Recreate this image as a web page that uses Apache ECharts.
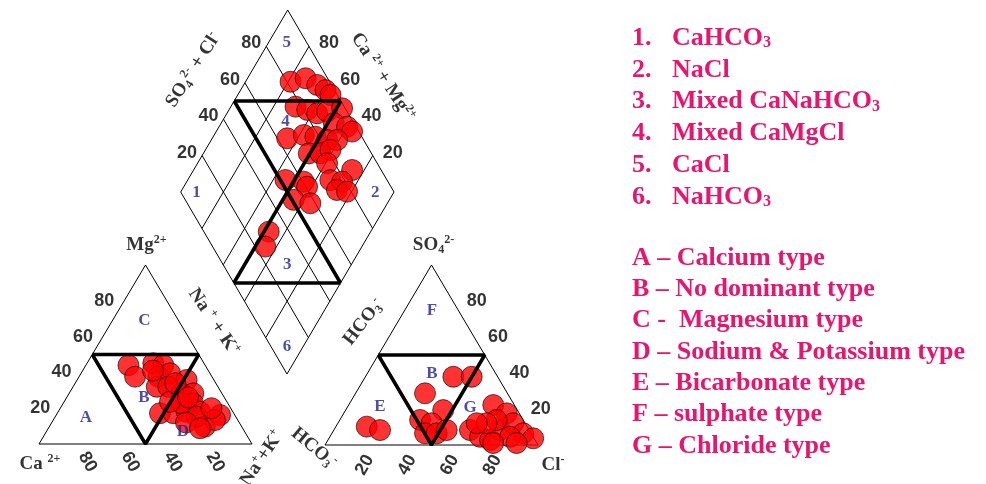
<!DOCTYPE html>
<html>
<head>
<meta charset="utf-8">
<script src="https://cdn.jsdelivr.net/npm/echarts@6/dist/echarts.min.js"></script>
<style>
html, body { margin: 0; padding: 0; background: #fff; }
#chart { width: 986px; height: 484px; }
</style>
</head>
<body>
<div id="chart"></div>
<script>
// ---- sample values (percent of meq/L) ----
// cation triangle: Mg2+ % and Na+ + K+ % (Ca2+ is the remainder)
const cationMg  = [44, 37.6, 45.1, 44.1, 37.6, 39.5, 32, 32, 35.8, 28.3, 28.3, 22.7, 17.2, 17.2, 18, 18, 22.7, 23.6, 9.7, 16.2, 13.4, 15.3, 41, 34, 26, 12, 20, 8.8];
const cationNaK = [20, 26.3, 31.1, 36.3, 37.2, 41.8, 39.3, 44.7, 51.4, 52.8, 58.3, 61, 48.2, 54.5, 60.3, 66.6, 55.6, 49.7, 73, 76.9, 75.9, 66.4, 33, 47, 57, 63, 71, 71.2];
// anion triangle: SO4 2- % and Cl- % (HCO3- is the remainder)
const anionSO4 = [37.9, 37.9, 28.7, 19.4, 13.9, 12.1, 6.5, 6.5, 8.3, 10.2, 8.3, 22.2, 17.6, 8.3, 4.6, 2.8, 8.3, 12.1, 6.5, 3.7, 4.6, 13.9, 12.1, 12.1, 1.1, 1.1];
const anionCl  = [41.3, 49.9, 32.6, 45.8, 37.7, 44, 43.7, 49.2, 53, 14.5, 21.7, 67.9, 76.5, 63.9, 70.5, 76.1, 78, 82.3, 89.8, 95.9, 84.6, 73.6, 69.8, 65.2, 89.4, 78.4];
// diamond: SO4 2- + Cl- % and Ca2+ + Mg2+ %
const diamondSO4Cl = [81.7, 89.7, 93.3, 95.8, 96.8, 77.2, 81.8, 85.5, 90.7, 98.6, 90.6, 95.9, 96.9, 64.6, 73.3, 78.3, 82.9, 87.6, 70.6, 76.1, 81.7, 76.5, 86.4, 73.4, 78.5, 73.8, 78.1, 52.4, 60.5, 60.7, 50.8, 57.7, 30.4, 24.7];
const diamondCaMg  = [78.9, 72.8, 65.5, 60.2, 56.5, 69.7, 63.3, 57.7, 53.5, 47.4, 47.2, 40, 36.3, 64.9, 58, 52.1, 45.7, 41, 50.6, 45.2, 41.4, 39.3, 25.7, 33.1, 27.2, 27.3, 22.1, 54.2, 45.2, 42.2, 44.9, 36.1, 47.8, 45.3];

const tickValues = [20, 40, 60, 80];

// legend texts
const waterTypeNums = ['1.', '2.', '3.', '4.', '5.', '6.'];
const waterTypes = ['CaHCO{s|3}', 'NaCl', 'Mixed CaNaHCO{s|3}', 'Mixed CaMgCl', 'CaCl', 'NaHCO{s|3}'];
const faciesTypes = ['A – Calcium type', 'B – No dominant type', 'C -  Magnesium type', 'D – Sodium & Potassium type', 'E – Bicarbonate type', 'F – sulphate type', 'G – Chloride type'];

// ---- layout of the three plotting fields (pixel units) ----
const LT = { x0: 39, y0: 444, w: 213, h: 179 };   // cation triangle
const RT = { x0: 325, y0: 445, w: 213, h: 180 };  // anion triangle
const DM = { bx: 287, by: 374, ax: 107, ay: -182, cx: -106.3, cy: -182 }; // diamond

// ternary position: top-vertex share and right-vertex share
function tern(T, top, right) {
  return [T.x0 + (right + top / 2) / 100 * T.w, T.y0 - top / 100 * T.h];
}
// diamond position: a = SO4+Cl, b = Ca+Mg
function dia(a, b) {
  return [DM.bx + a / 100 * DM.ax + b / 100 * DM.cx, DM.by + a / 100 * DM.ay + b / 100 * DM.cy];
}
// move a label anchor by a few pixels (axes run 1:1 with pixels)
function shift(p, dx, dy) { return [p[0] + dx, p[1] + dy]; }

const series = [];
function poly(pts, width, z) {
  series.push({
    type: 'line', data: pts, symbol: 'none', silent: true, animation: false, z: z,
    lineStyle: { color: '#000', width: width }, clip: false
  });
}

// outlines
poly([tern(LT, 0, 0), tern(LT, 0, 100), tern(LT, 100, 0), tern(LT, 0, 0)], 1, 1);
poly([tern(RT, 0, 0), tern(RT, 0, 100), tern(RT, 100, 0), tern(RT, 0, 0)], 1, 1);
poly([dia(0, 0), dia(100, 0), dia(100, 100), dia(0, 100), dia(0, 0)], 1, 1);
tickValues.forEach(v => {
  poly([dia(v, 0), dia(v, 100)], 1, 1);
  poly([dia(0, v), dia(100, v)], 1, 1);
});

// samples
const pointStyle = { color: '#ff0000', borderColor: '#000', borderWidth: 0.8 };
function scatter(data) {
  series.push({
    type: 'scatter', data: data, symbolSize: 21, itemStyle: pointStyle,
    silent: true, animation: false, z: 3, clip: false
  });
}
scatter(cationMg.map((m, i) => tern(LT, m, cationNaK[i])));
scatter(anionSO4.map((s, i) => tern(RT, s, anionCl[i])));
scatter(diamondSO4Cl.map((a, i) => dia(a, diamondCaMg[i])));

// facies boundaries
poly([tern(LT, 50, 0), tern(LT, 50, 50), tern(LT, 0, 50), tern(LT, 50, 0)], 3.5, 5);
poly([tern(RT, 50, 0), tern(RT, 50, 50), tern(RT, 0, 50), tern(RT, 50, 0)], 3.5, 5);
poly([dia(50, 100), dia(100, 50)], 3.5, 5);
poly([dia(0, 50), dia(50, 0)], 3.5, 5);
poly([dia(50, 100), dia(50, 0)], 3.5, 5);
poly([dia(100, 50), dia(0, 50)], 3.5, 5);

// ---- text ----
const serif = 'Liberation Serif';
const chemRich = {
  m: { fontFamily: serif, fontWeight: 'bold', fontSize: 19, color: '#000', lineHeight: 22 },
  s: { fontFamily: serif, fontWeight: 'bold', fontSize: 12, color: '#000', verticalAlign: 'bottom', lineHeight: 14 },
  p: { fontFamily: serif, fontWeight: 'bold', fontSize: 12, color: '#000', verticalAlign: 'top', lineHeight: 14 }
};
function labels(items, common) {
  series.push({
    type: 'scatter', symbolSize: 0, silent: true, animation: false, z: 6, clip: false,
    data: items.map(it => ({
      value: it.pos,
      label: Object.assign({ show: true, position: 'inside', formatter: it.text, rotate: it.rotate || 0 }, common)
    }))
  });
}

const tickStyle = { fontFamily: 'Liberation Sans', fontWeight: 'bold', fontSize: 18, color: '#000' };
labels(tickValues.map(v => ({ pos: shift(tern(LT, v, 0), -20, 0), text: String(v) })), tickStyle);
labels(tickValues.map(v => ({ pos: shift(tern(LT, 0, 100 - v), 6, 18), text: String(v), rotate: -60 })), tickStyle);
labels(tickValues.map(v => ({ pos: shift(tern(RT, v, 100 - v), 24, 0), text: String(v) })), tickStyle);
labels(tickValues.map(v => ({ pos: shift(tern(RT, 0, v), -3, 20), text: String(v), rotate: 60 })), tickStyle);
labels(tickValues.map(v => ({ pos: shift(dia(v, 100), -15, -3), text: String(v) })), tickStyle);
labels(tickValues.map(v => ({ pos: shift(dia(100, v), 20, -3), text: String(v) })), tickStyle);

// field letters and numbers
const zoneStyle = { fontFamily: serif, fontWeight: 'bold', fontSize: 17, color: '#1f1f9a' };
labels([
  { pos: tern(LT, 69, 15), text: 'C' }, { pos: tern(LT, 14.5, 14.8), text: 'A' },
  { pos: tern(LT, 25.7, 36.4), text: 'B' }, { pos: tern(LT, 6.7, 64.2), text: 'D' },
  { pos: tern(RT, 74.4, 13), text: 'F' }, { pos: tern(RT, 21.1, 15.2), text: 'E' },
  { pos: tern(RT, 39.4, 30.5), text: 'B' }, { pos: tern(RT, 20.6, 57.8), text: 'G' },
  { pos: dia(90.7, 91.6), text: '5' }, { pos: dia(7.1, 92.4), text: '1' },
  { pos: dia(91, 8.5), text: '2' }, { pos: dia(68.3, 70.2), text: '4' },
  { pos: dia(30, 30), text: '3' }, { pos: dia(7.4, 7.4), text: '6' }
], zoneStyle);

// axis titles
const titleStyle = { rich: chemRich };
labels([
  { pos: shift(tern(LT, 100, 0), 1, -20), text: '{m|Mg}{p|2+}' },
  { pos: shift(tern(LT, 0, 0), 1, 20), text: '{m|Ca }{p|2+}' },
  { pos: shift(tern(LT, 0, 100), 10, 14), text: '{m|Na}{p|+}{m|+K}{p|+}', rotate: 56 },
  { pos: shift(tern(RT, 100, 0), 2, -20), text: '{m|SO}{s|4}{p|2-}' },
  { pos: shift(tern(RT, 0, 100), 15, 20), text: '{m|Cl}{p|-}' },
  { pos: shift(tern(RT, 70, 0), -36, 3), text: '{m|HCO}{s|3}{p|-}', rotate: 52 },
  { pos: shift(tern(RT, 0, 0), -11, 3), text: '{m|HCO}{s|3}{p|-}', rotate: -40 },
  { pos: shift(dia(50, 100), -41, -31), text: '{m|SO}{s|4}{p|2-}{m| + Cl}{p|-}', rotate: 57 },
  { pos: shift(dia(100, 50), 42, -24), text: '{m|Ca }{p|2+}{m| + Mg}{p|2+}', rotate: -57 },
  { pos: shift(dia(0, 50), -20, 39), text: '{m|Na }{p|+}{m| + K}{p|+}', rotate: -56 }
], titleStyle);

const chart = echarts.init(document.getElementById('chart'), null, { renderer: 'canvas' });

// legend blocks
const pink = '#e8146e';
const legendRich = {
  n: { fontFamily: serif, fontWeight: 'bold', fontSize: 26, fill: pink, width: 40 },
  t: { fontFamily: serif, fontWeight: 'bold', fontSize: 26, fill: pink },
  s: { fontFamily: serif, fontWeight: 'bold', fontSize: 16, fill: pink, verticalAlign: 'bottom' }
};
const graphic = [];
waterTypes.forEach((t, i) => {
  const txt = '{n|' + waterTypeNums[i] + '}' + t.split(/(\{s\|[^}]*\})/).map(p => p.startsWith('{s|') ? p : (p ? '{t|' + p + '}' : '')).join('');
  graphic.push({
    type: 'text', left: 632, top: 25 + i * 31.8, silent: true,
    style: { text: txt, rich: legendRich, font: 'bold 26px "Liberation Serif"', fill: pink }
  });
});
faciesTypes.forEach((t, i) => {
  graphic.push({
    type: 'text', left: 632, top: 245 + i * 31.3, silent: true,
    style: { text: t, font: 'bold 26px "Liberation Serif"', fill: pink }
  });
});

chart.setOption({
  animation: false,
  backgroundColor: '#fff',
  grid: { left: 0, right: 0, top: 0, bottom: 0 },
  xAxis: { type: 'value', min: 0, max: 986, show: false },
  yAxis: { type: 'value', min: 0, max: 484, inverse: true, show: false },
  series: series,
  graphic: graphic
});
</script>
</body>
</html>
